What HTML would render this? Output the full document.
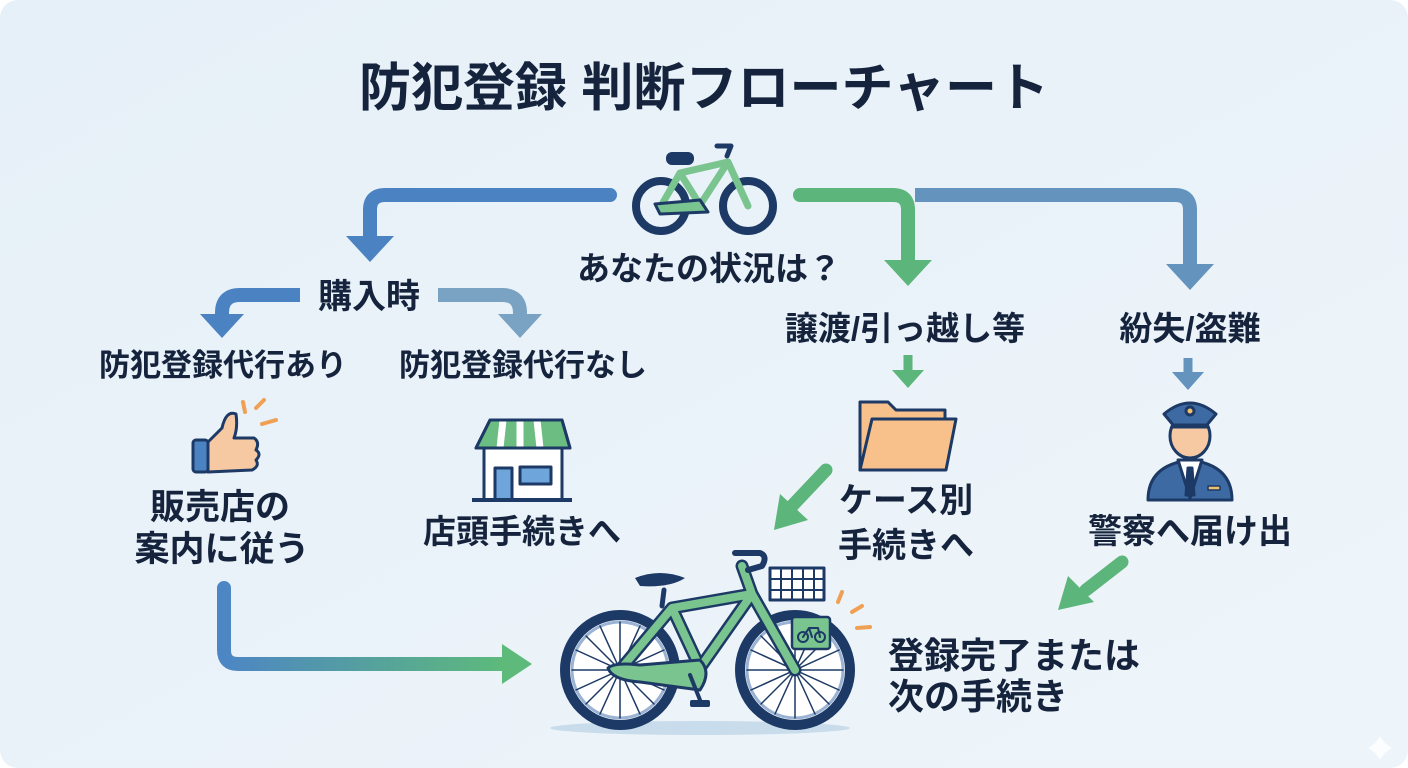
<!DOCTYPE html>
<html><head><meta charset="utf-8"><style>
html,body{margin:0;padding:0;width:1408px;height:768px;overflow:hidden;background:#fff}
svg{display:block}
text{font-family:"Liberation Sans","Noto Sans CJK JP",sans-serif;font-weight:bold;fill:#15233d}
</style></head><body>
<svg width="1408" height="768" viewBox="0 0 1408 768" xmlns="http://www.w3.org/2000/svg">
<defs>
<linearGradient id="bg" x1="0" y1="0" x2="1" y2="1"><stop offset="0" stop-color="#e6f0f8"/><stop offset="1" stop-color="#eef5fa"/></linearGradient>
<linearGradient id="lb" x1="0" y1="0" x2="1" y2="0"><stop offset="0" stop-color="#4d86c4"/><stop offset="1" stop-color="#5dba7a"/></linearGradient>
</defs>
<rect x="0" y="0" width="1408" height="768" rx="18" fill="url(#bg)"/>
<text x="704" y="106" font-size="52" text-anchor="middle">防犯登録 判断フローチャート</text>

<!-- top connectors -->
<path d="M610 195 H385 Q370 195 370 210 V240" fill="none" stroke="#4a82c2" stroke-width="14" stroke-linecap="round"/>
<polygon points="346,236 394,236 370,262" fill="#4a82c2"/>
<path d="M800 195 H893 Q908 195 908 210 V262" fill="none" stroke="#5cb57a" stroke-width="14" stroke-linecap="round"/>
<polygon points="884,260 932,260 908,286" fill="#5cb57a"/>
<path d="M915 195 H1175 Q1190 195 1190 210 V266" fill="none" stroke="#6494bd" stroke-width="14"/>
<polygon points="1166,264 1214,264 1190,290" fill="#6494bd"/>

<!-- top bike -->
<g stroke="#1d3a66" stroke-width="4" stroke-linejoin="round" stroke-linecap="round">
<circle cx="661" cy="206" r="25" fill="none" stroke-width="8"/>
<circle cx="748" cy="206" r="25" fill="none" stroke-width="8"/>
<path d="M661 206 L680 173 L728 162 L748 206 M680 173 L700 205 L728 162" fill="none" stroke="#7ac48f" stroke-width="7"/>
<path d="M655 204 L700 200 L708 212 L660 214 Z" fill="#7ac48f" stroke-width="3"/>
<rect x="668" y="154" width="24" height="9" rx="4" fill="#1d3a66"/>
<path d="M717 146 h14 l-4 10" fill="none" stroke-width="5"/>
</g>
<text x="709" y="280" font-size="33" text-anchor="middle">あなたの状況は？</text>

<!-- 購入時 branch -->
<text x="369" y="308" font-size="34" text-anchor="middle">購入時</text>
<path d="M300 295 H240 Q222 295 222 313 V318" fill="none" stroke="#4a82c2" stroke-width="14"/>
<polygon points="200,314 244,314 222,338" fill="#4a82c2"/>
<path d="M438 295 H502 Q520 295 520 313 V318" fill="none" stroke="#7aa2c2" stroke-width="14"/>
<polygon points="498,314 542,314 520,338" fill="#7aa2c2"/>
<text x="223" y="376" font-size="31" text-anchor="middle">防犯登録代行あり</text>
<text x="523" y="376" font-size="31" text-anchor="middle">防犯登録代行なし</text>

<!-- right branches -->
<text x="905" y="340" font-size="33" text-anchor="middle">譲渡/引っ越し等</text>
<text x="1190" y="340" font-size="33" text-anchor="middle">紛失/盗難</text>
<path d="M908 355 V372" stroke="#5cb57a" stroke-width="9"/>
<polygon points="892,370 924,370 908,388" fill="#5cb57a"/>
<path d="M1188 358 V374" stroke="#6494bd" stroke-width="9"/>
<polygon points="1172,372 1204,372 1188,390" fill="#6494bd"/>

<!-- thumb -->
<g stroke="#1d3a66" stroke-width="3" stroke-linejoin="round">
<rect x="193" y="440" width="15" height="32" rx="3" fill="#4a82c2"/>
<path d="M208 442 L222 428 Q226 410 236 414 Q238 428 234 438 L254 438 Q260 442 256 450 Q262 454 256 460 Q260 466 252 470 L208 472 Z" fill="#f7c9a2"/>
</g>
<g stroke="#f0a055" stroke-width="4" stroke-linecap="round"><path d="M243 402 L245 412"/><path d="M256 408 L264 400"/><path d="M262 424 L276 420"/></g>

<!-- shop -->
<g stroke="#1d3a66" stroke-width="3" stroke-linejoin="round">
<rect x="484" y="448" width="78" height="52" fill="#fff"/>
<path d="M490 420 H562 L570 448 H476 Z" fill="#6cbd82"/>
<path d="M503 420 L500 448 M520 420 V448 M537 420 L540 448" stroke="#fff" stroke-width="7"/>
<path d="M490 420 H562 L570 448 H476 Z" fill="none"/>
<rect x="495" y="468" width="17" height="32" fill="#6ea6dc"/>
<rect x="520" y="467" width="31" height="17" fill="#6ea6dc"/>
<path d="M472 500 H572" stroke-width="4"/>
</g>

<!-- folder -->
<g stroke="#1d3a66" stroke-width="3" stroke-linejoin="round">
<path d="M860 402 H888 L896 410 H945 V470 H860 Z" fill="#f8c08a"/>
<path d="M872 419 H956 L946 470 H860 Z" fill="#f8c08a"/>
</g>

<!-- police -->
<g stroke="#1d3a66" stroke-width="3" stroke-linejoin="round">
<path d="M1148 500 Q1148 465 1190 460 Q1232 465 1232 500 Z" fill="#3e6aa3"/>
<path d="M1178 460 L1190 498 L1202 460 Z" fill="#fff"/>
<path d="M1188 468 L1192 468 L1194 495 L1186 495 Z" fill="#1d3a66"/>
<ellipse cx="1190" cy="436" rx="20" ry="22" fill="#f7c9a2"/>
<path d="M1164 414 Q1190 392 1216 414 L1206 426 H1174 Z" fill="#3e6aa3"/>
<path d="M1172 426 H1208" stroke-width="5"/>
<circle cx="1190" cy="411" r="4" fill="#f0c070"/>
<rect x="1208" y="486" width="12" height="4" fill="#f0c070" stroke-width="1.5"/>
</g>

<text x="220" y="519" font-size="35" text-anchor="middle">販売店の</text>
<text x="222" y="561" font-size="35" text-anchor="middle">案内に従う</text>
<text x="522" y="543" font-size="33" text-anchor="middle">店頭手続きへ</text>
<text x="906" y="512" font-size="34" text-anchor="middle">ケース別</text>
<text x="906" y="557" font-size="34" text-anchor="middle">手続きへ</text>
<text x="1190" y="543" font-size="34" text-anchor="middle">警察へ届け出</text>

<!-- green diagonal arrows -->
<path d="M826 470 L792 506" stroke="#5cb57a" stroke-width="13" stroke-linecap="round"/>
<polygon points="774,530 780,494 808,520" fill="#5cb57a"/>
<path d="M1122 562 L1086 590" stroke="#5cb57a" stroke-width="13" stroke-linecap="round"/>
<polygon points="1058,610 1068,576 1094,602" fill="#5cb57a"/>

<!-- bottom-left connector -->
<path d="M224 588 V650 Q224 664 238 664 H505" fill="none" stroke="url(#lb)" stroke-width="14" stroke-linecap="round"/>
<polygon points="502,644 502,684 532,664" fill="#5dba7a"/>

<!-- big bike -->
<ellipse cx="700" cy="728" rx="150" ry="7" fill="#c8dcec"/>
<g stroke-linejoin="round" stroke-linecap="round">
<circle cx="620" cy="670" r="55" fill="#fff" stroke="#1d3a66" stroke-width="10"/>
<circle cx="620" cy="670" r="48" fill="none" stroke="#9ab3d4" stroke-width="3"/>
<circle cx="795" cy="670" r="55" fill="#fff" stroke="#1d3a66" stroke-width="10"/>
<circle cx="795" cy="670" r="48" fill="none" stroke="#9ab3d4" stroke-width="3"/>
<g stroke="#1d3a66" stroke-width="1.5">
<path d="M620 622 V718 M572 670 H668 M586 636 L654 704 M654 636 L586 704 M600 626 L640 714 M640 626 L600 714 M576 650 L664 690 M664 650 L576 690"/>
<path d="M795 622 V718 M747 670 H843 M761 636 L829 704 M829 636 L761 704 M775 626 L815 714 M815 626 L775 714 M751 650 L839 690 M839 650 L751 690"/>
</g>
<path d="M620 670 L672 608 L752 594 L795 670 M672 608 L700 668 L752 594 M752 594 L742 566" fill="none" stroke="#1d3a66" stroke-width="13"/>
<path d="M620 670 L672 608 L752 594 L795 670 M672 608 L700 668 L752 594 M752 594 L742 566" fill="none" stroke="#7ac48f" stroke-width="8"/>
<path d="M608 668 Q615 662 640 665 L700 660 Q712 672 700 690 L640 682 Q612 680 608 668 Z" fill="#7ac48f" stroke="#1d3a66" stroke-width="3"/>
<path d="M690 675 L700 700" stroke="#1d3a66" stroke-width="4"/>
<rect x="690" y="700" width="20" height="7" rx="2" fill="#1d3a66"/>
<path d="M662 606 L664 590" stroke="#1d3a66" stroke-width="5"/>
<path d="M635 578 Q660 568 685 578 Q670 588 640 586 Z" fill="#1d3a66"/>
<path d="M735 553 H760 Q768 556 762 566 L748 570" fill="none" stroke="#1d3a66" stroke-width="6"/>
<rect x="770" y="568" width="54" height="32" fill="#fff" stroke="#1d3a66" stroke-width="3"/>
<path d="M781 568 V600 M792 568 V600 M803 568 V600 M814 568 V600 M770 579 H824 M770 590 H824" stroke="#1d3a66" stroke-width="2"/>
<rect x="792" y="617" width="38" height="32" rx="3" fill="#7ac48f" stroke="#1d3a66" stroke-width="2.5"/>
<circle cx="803" cy="637" r="5" fill="none" stroke="#1d3a66" stroke-width="2"/>
<circle cx="820" cy="637" r="5" fill="none" stroke="#1d3a66" stroke-width="2"/>
<path d="M803 637 L809 628 L818 628 L820 637 M809 628 L812 637" fill="none" stroke="#1d3a66" stroke-width="2"/>
</g>
<g stroke="#f0a055" stroke-width="4" stroke-linecap="round"><path d="M842 592 L838 602"/><path d="M852 612 L862 606"/><path d="M857 628 L870 627"/></g>

<text x="888" y="668" font-size="36">登録完了または</text>
<text x="888" y="709" font-size="36">次の手続き</text>
<path d="M1380 736 Q1384 744 1392 748 Q1384 752 1380 760 Q1376 752 1368 748 Q1376 744 1380 736 Z" fill="#fff" opacity="0.8"/>
</svg>
</body></html>
